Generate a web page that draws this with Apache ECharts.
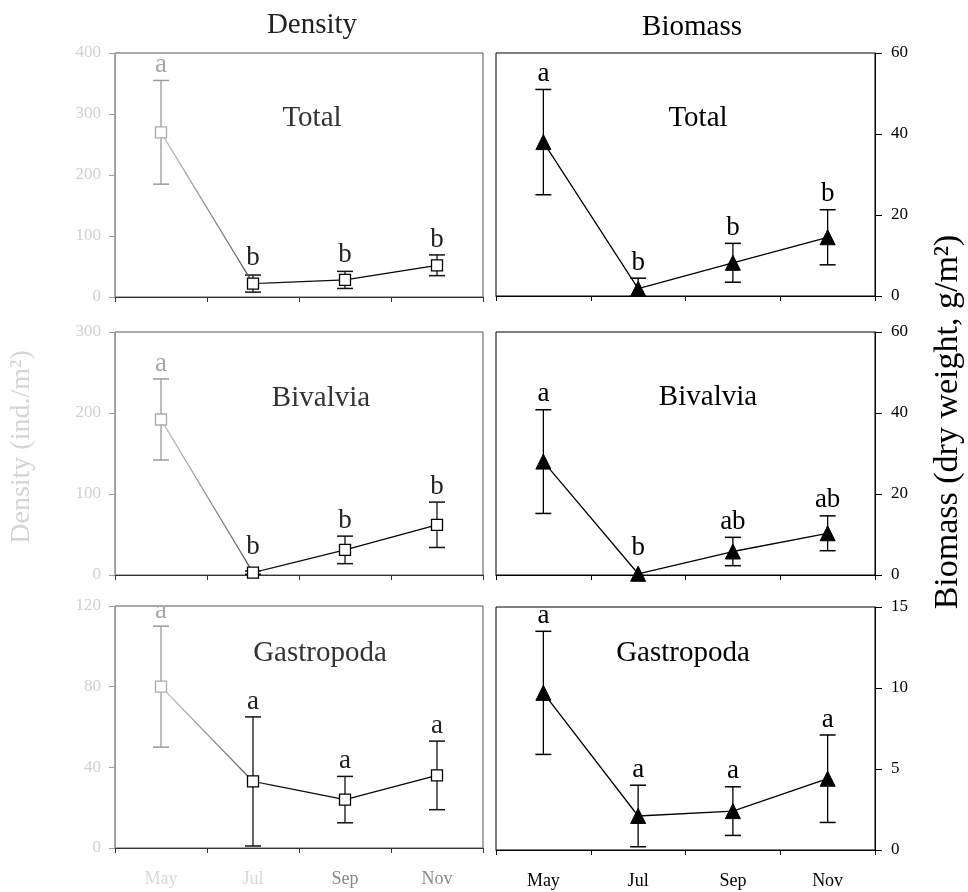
<!DOCTYPE html>
<html>
<head>
<meta charset="utf-8">
<script src="https://cdn.jsdelivr.net/npm/echarts@6/dist/echarts.min.js"></script>
<style>html,body{margin:0;padding:0;background:#fff;}#c{width:968px;height:892px;}</style>
</head>
<body>
<div id="c"></div>
<script>
// ---- data ----
const months = ['May', 'Jul', 'Sep', 'Nov'];

const densTotalMean = [270, 22, 28, 52];
const densTotalErr = [85, 14, 14, 17];
const densTotalLetters = ['a', 'b', 'b', 'b'];

const densBivMean = [192, 3, 31, 62];
const densBivErr = [50, 2, 17, 28];
const densBivLetters = ['a', 'b', 'b', 'b'];

const densGasMean = [80, 33, 24, 36];
const densGasErr = [30, 32, 11.5, 17];
const densGasLetters = ['a', 'a', 'a', 'a'];

const bioTotalMean = [38, 1.8, 8.2, 14.5];
const bioTotalErr = [13, 2.6, 4.8, 6.8];
const bioTotalLetters = ['a', 'b', 'b', 'b'];

const bioBivMean = [28, 0.3, 5.8, 10.3];
const bioBivErr = [12.8, 0, 3.5, 4.3];
const bioBivLetters = ['a', 'b', 'ab', 'ab'];

const bioGasMean = [9.7, 2.1, 2.4, 4.4];
const bioGasErr = [3.8, 1.9, 1.5, 2.7];
const bioGasLetters = ['a', 'a', 'a', 'a'];

const densTotalTicks = [0, 400, 100];
const densBivTicks = [0, 300, 100];
const densGasTicks = [0, 120, 40];
const bioTotalTicks = [0, 60, 20];
const bioBivTicks = [0, 60, 20];
const bioGasTicks = [0, 15, 5];

const panelNames = ['Total', 'Bivalvia', 'Gastropoda'];

// ---- layout / style ----
const FONT = '"Liberation Serif", "Times New Roman", serif';
const chart = echarts.init(document.getElementById('c'));

const panels = [
  {side: 'L', mean: densTotalMean, err: densTotalErr, letters: densTotalLetters, ticks: densTotalTicks, pos: {left: 115, top: 53, width: 368, height: 244}},
  {side: 'L', mean: densBivMean, err: densBivErr, letters: densBivLetters, ticks: densBivTicks, pos: {left: 115, top: 332, width: 368, height: 243}},
  {side: 'L', mean: densGasMean, err: densGasErr, letters: densGasLetters, ticks: densGasTicks, pos: {left: 115, top: 606, width: 368, height: 242}},
  {side: 'R', mean: bioTotalMean, err: bioTotalErr, letters: bioTotalLetters, ticks: bioTotalTicks, pos: {left: 496, top: 53, width: 379, height: 243}},
  {side: 'R', mean: bioBivMean, err: bioBivErr, letters: bioBivLetters, ticks: bioBivTicks, pos: {left: 496, top: 332, width: 379, height: 243}},
  {side: 'R', mean: bioGasMean, err: bioGasErr, letters: bioGasLetters, ticks: bioGasTicks, pos: {left: 496, top: 607, width: 379, height: 243}}
];

const grid = [], xAxis = [], yAxis = [], series = [];

panels.forEach((p, i) => {
  const left = p.side === 'L';
  const bottomRow = (i % 3) === 2;
  const frameColor = left ? '#555' : '#000';
  grid.push(Object.assign({show: true, borderColor: frameColor, borderWidth: 1, backgroundColor: 'transparent', outerBoundsMode: 'none', containLabel: false}, p.pos));
  xAxis.push({
    gridIndex: i, type: 'category', data: months, boundaryGap: true,
    axisLine: {show: true, lineStyle: {color: left ? '#333' : '#000', width: 1}},
    axisTick: {show: true, length: 5, inside: false, lineStyle: {color: left ? '#333' : '#000'}},
    axisLabel: {
      show: bottomRow, margin: 22, fontFamily: FONT, fontSize: 18,
      color: left ? function (v, idx) { return ['#d8d8d8', '#d8d8d8', '#888', '#888'][idx]; } : '#000'
    },
    splitLine: {show: false}
  });
  yAxis.push({
    gridIndex: i, type: 'value', position: left ? 'left' : 'right',
    min: p.ticks[0], max: p.ticks[1], interval: p.ticks[2],
    axisLine: {show: true, lineStyle: {color: left ? '#999' : '#000', width: 1}},
    axisTick: {show: true, length: left ? 6 : 7, inside: false, lineStyle: {color: left ? '#999' : '#000'}},
    axisLabel: {margin: left ? 14 : 16, fontFamily: FONT, fontSize: 17, color: left ? '#d0d0d0' : '#000'},
    splitLine: {show: false}
  });

  const lineColor = left
    ? new echarts.graphic.LinearGradient(0, 0, 1, 0, [
        {offset: 0, color: '#c4c4c4'}, {offset: 0.28, color: '#777'}, {offset: 0.4, color: '#111'}, {offset: 1, color: '#000'}])
    : '#000';

  series.push({
    type: 'custom', xAxisIndex: i, yAxisIndex: i, z: 2, clip: false, silent: true,
    data: p.mean.map((m, k) => [k, m, p.err[k]]),
    encode: {x: 0, y: 1},
    renderItem: function (params, api) {
      const k = api.value(0), m = api.value(1), e = api.value(2);
      const col = (left && k === 0) ? '#9a9a9a' : (left ? '#111' : '#000');
      const txtCol = (left && k === 0) ? '#a8a8a8' : (left ? '#222' : '#000');
      const c = api.coord([k, m]);
      const top = api.coord([k, m + e]);
      const lowVal = m - e;
      const bot = api.coord([k, Math.max(lowVal, p.ticks[0])]);
      const children = [];
      const w = 8;
      if (e > 0) {
        children.push({type: 'line', shape: {x1: top[0], y1: top[1], x2: bot[0], y2: bot[1]}, style: {stroke: col, lineWidth: 1.3}});
        children.push({type: 'line', shape: {x1: top[0] - w, y1: top[1], x2: top[0] + w, y2: top[1]}, style: {stroke: col, lineWidth: 1.5}});
        if (lowVal >= p.ticks[0]) {
          children.push({type: 'line', shape: {x1: bot[0] - w, y1: bot[1], x2: bot[0] + w, y2: bot[1]}, style: {stroke: col, lineWidth: 1.5}});
        }
      }
      const ty = Math.min(top[1] - 2, c[1] - 12);
      children.push({type: 'text', style: {text: p.letters[params.dataIndex], x: c[0], y: ty, textAlign: 'center', textVerticalAlign: 'bottom', verticalAlign: 'bottom', font: '27px ' + FONT, fill: txtCol}});
      return {type: 'group', children: children};
    }
  });

  series.push({
    type: 'line', xAxisIndex: i, yAxisIndex: i, z: 3, silent: true,
    symbol: left ? 'rect' : 'triangle',
    symbolSize: left ? 11 : 15,
    lineStyle: {color: lineColor, width: 1.3},
    itemStyle: left ? {color: '#fff', borderColor: '#000', borderWidth: 1.3} : {color: '#000', borderColor: '#000', borderWidth: 1},
    data: p.mean.map((m, k) => (left && k === 0) ? {value: m, itemStyle: {color: '#fff', borderColor: '#aaa', borderWidth: 1.3}} : m)
  });
});

const graphic = [
  {type: 'text', x: 312, y: 25, style: {text: 'Density', font: '29px ' + FONT, fill: '#222', textAlign: 'center', textVerticalAlign: 'middle', verticalAlign: 'middle'}},
  {type: 'text', x: 692, y: 27, style: {text: 'Biomass', font: '29px ' + FONT, fill: '#000', textAlign: 'center', textVerticalAlign: 'middle', verticalAlign: 'middle'}},
  {type: 'text', x: 312, y: 118, style: {text: panelNames[0], font: '29px ' + FONT, fill: '#333', textAlign: 'center', textVerticalAlign: 'middle', verticalAlign: 'middle'}},
  {type: 'text', x: 321, y: 398, style: {text: panelNames[1], font: '29px ' + FONT, fill: '#333', textAlign: 'center', textVerticalAlign: 'middle', verticalAlign: 'middle'}},
  {type: 'text', x: 320, y: 653, style: {text: panelNames[2], font: '29px ' + FONT, fill: '#333', textAlign: 'center', textVerticalAlign: 'middle', verticalAlign: 'middle'}},
  {type: 'text', x: 698, y: 118, style: {text: panelNames[0], font: '29px ' + FONT, fill: '#000', textAlign: 'center', textVerticalAlign: 'middle', verticalAlign: 'middle'}},
  {type: 'text', x: 708, y: 397, style: {text: panelNames[1], font: '29px ' + FONT, fill: '#000', textAlign: 'center', textVerticalAlign: 'middle', verticalAlign: 'middle'}},
  {type: 'text', x: 683, y: 653, style: {text: panelNames[2], font: '29px ' + FONT, fill: '#000', textAlign: 'center', textVerticalAlign: 'middle', verticalAlign: 'middle'}},
  {type: 'text', x: 948, y: 422, rotation: Math.PI / 2, style: {text: 'Biomass (dry weight, g/m²)', font: '34px ' + FONT, fill: '#000', textAlign: 'center', textVerticalAlign: 'middle', verticalAlign: 'middle'}},
  {type: 'text', x: 22, y: 447, rotation: Math.PI / 2, style: {text: 'Density (ind./m²)', font: '28px ' + FONT, fill: '#d4d4d4', textAlign: 'center', textVerticalAlign: 'middle', verticalAlign: 'middle'}}
];

chart.setOption({
  animation: false,
  backgroundColor: '#fff',
  textStyle: {fontFamily: FONT},
  grid: grid, xAxis: xAxis, yAxis: yAxis, series: series, graphic: graphic
});
</script>
</body>
</html>
